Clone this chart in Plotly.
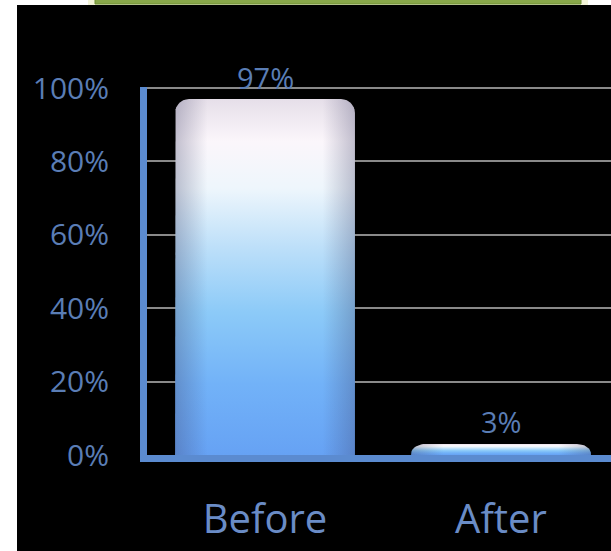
import numpy as np
import plotly.graph_objects as go

categories = ["Before", "After"]
values = [97, 3]
labels = ["97%", "3%"]
y_ticks = [0, 20, 40, 60, 80, 100]
y_ticktext = ["0%", "20%", "40%", "60%", "80%", "100%"]

W, H = 611, 551
L, R, T, B = 147, 0, 87, 96
x_range = [-0.5, 1.466]
y_range = [0, 100.3]
plot_w = W - L - R
plot_h = H - T - B
px_x = (x_range[1] - x_range[0]) / plot_w
px_y = (y_range[1] - y_range[0]) / plot_h

bar_half = 0.381
corner_px = 14

TEXT = "#5a7db5"
AXIS = "#5b8bd0"

fig = go.Figure()


def bar_outline(xc, v):
    rx = corner_px * px_x
    ry = min(corner_px * px_y, v * 0.9)
    x0, x1 = xc - bar_half, xc + bar_half
    t = np.linspace(0, np.pi / 2, 12)
    xs = [x0]
    ys = [0]
    lx = x0 + rx - rx * np.cos(t)
    ly = v - ry + ry * np.sin(t)
    xs += list(lx)
    ys += list(ly)
    rxs = x1 - rx + rx * np.cos(t[::-1])
    rys = v - ry + ry * np.sin(t[::-1])
    xs += list(rxs)
    ys += list(rys)
    xs += [x1, x0]
    ys += [0, 0]
    return xs, ys


for i, (c, v) in enumerate(zip(categories, values)):
    xs, ys = bar_outline(i, v)
    fig.add_trace(go.Scatter(
        x=xs, y=ys, mode="lines", fill="toself",
        line=dict(width=0, color="rgba(0,0,0,0)"),
        fillgradient=dict(
            type="vertical",
            colorscale=[[0, "#66a2f4"], [0.2, "#72b2f8"], [0.4, "#8ccaf8"], [0.58, "#bcdff9"],
                        [0.75, "#eef6fc"], [0.88, "#fbf6fb"], [1, "#e6dfe9"]],
            start=0, stop=v,
        ),
        hoverinfo="skip", showlegend=False,
    ))
    # side shading
    fig.add_trace(go.Scatter(
        x=xs, y=ys, mode="lines", fill="toself",
        line=dict(width=0, color="rgba(0,0,0,0)"),
        fillgradient=dict(
            type="horizontal",
            colorscale=[[0, "rgba(60,60,100,0.30)"], [0.18, "rgba(60,60,100,0.0)"],
                        [0.82, "rgba(60,60,100,0.0)"], [1, "rgba(60,60,100,0.30)"]],
            start=i - bar_half, stop=i + bar_half,
        ),
        hoverinfo="skip", showlegend=False,
    ))

for i, (v, lab) in enumerate(zip(values, labels)):
    fig.add_annotation(x=i, y=v, text=lab, showarrow=False, yshift=22,
                       font=dict(size=29, color=TEXT, family="Open Sans"))

shapes = [
    # white frame strips
    dict(type="rect", xref="paper", yref="paper", x0=-L / plot_w - 0.01, x1=(17 - L) / plot_w,
         y0=-B / plot_h - 0.01, y1=(T) / plot_h + 1.01, fillcolor="white", line_width=0, layer="above"),
    dict(type="rect", xref="paper", yref="paper", x0=-L / plot_w - 0.01, x1=1.01,
         y0=1 + (T - 5) / plot_h, y1=1 + T / plot_h + 0.01, fillcolor="white", line_width=0, layer="above"),
    # green title box edge
    dict(type="rect", xref="paper", yref="paper", x0=(88 - L) / plot_w, x1=(588 - L) / plot_w,
         y0=1 + (T - 5) / plot_h, y1=1 + (T + 10) / plot_h, fillcolor="#f3f4d8", line_width=0, layer="above"),
    dict(type="rect", xref="paper", yref="paper", x0=(95 - L) / plot_w, x1=(581 - L) / plot_w,
         y0=1 + (T - 4) / plot_h, y1=1 + (T + 10) / plot_h, fillcolor="#89a84a", line=dict(color="#6f8f35", width=1), layer="above"),
]

fig.update_layout(
    width=W, height=H,
    margin=dict(l=L, r=R, t=T, b=B, pad=0),
    paper_bgcolor="black", plot_bgcolor="black",
    shapes=shapes,
    showlegend=False,
    xaxis=dict(
        range=x_range, tickmode="array", tickvals=list(range(len(categories))), ticktext=categories,
        showgrid=False, zeroline=False, showline=True, linecolor=AXIS, linewidth=7,
        ticks="", ticklabelstandoff=23,
        tickfont=dict(size=40, color="#6a8cc6", family="Open Sans"),
        fixedrange=True,
    ),
    yaxis=dict(
        range=y_range, tickmode="array", tickvals=y_ticks, ticktext=y_ticktext,
        showgrid=True, gridcolor="#8a8a8a", gridwidth=1.5, zeroline=False,
        showline=True, linecolor=AXIS, linewidth=7,
        ticks="", ticklabelstandoff=25,
        tickfont=dict(size=30, color=TEXT, family="Open Sans"),
        fixedrange=True,
    ),
)

fig.write_html("out.html")
